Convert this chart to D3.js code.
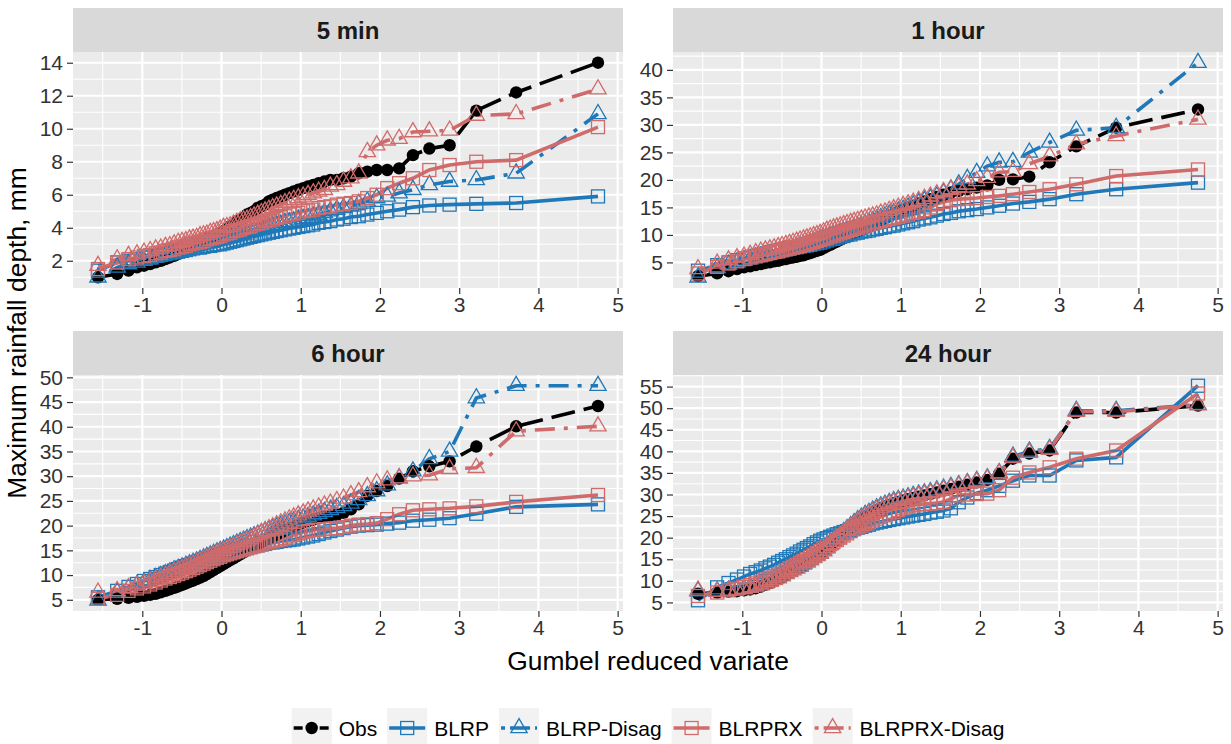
<!DOCTYPE html>
<html lang="en">
<head>
<meta charset="UTF-8">
<title>Gumbel reduced variate vs maximum rainfall depth</title>
<script src="https://d3js.org/d3.v7.min.js"></script>
<style>
  body { margin: 0; background: #fff; }
  svg { display: block; font-family: "Liberation Sans", Arial, sans-serif; }
  .axis text { font-size: 21px; fill: #333; }
  .axis line { stroke: #333; stroke-width: 1.2; }
  .axis .domain { display: none; }
  .strip-text { font-size: 24px; font-weight: bold; fill: #1a1a1a; }
  .axis-title { font-size: 26.4px; fill: #000; }
  .legend-text { font-size: 21px; fill: #000; }
</style>
</head>
<body>
<svg id="chart" width="1231" height="744"></svg>
<script>
// plotting positions (Gumbel reduced variate), shared by every series
const gumbelX = [
  -1.559, -1.317, -1.174, -1.067, -0.978, -0.901, -0.831, -0.767, -0.708, -0.652,
  -0.598, -0.547, -0.498, -0.450, -0.404, -0.359, -0.314, -0.271, -0.227, -0.185,
  -0.142, -0.100, -0.058, -0.017, 0.025, 0.067, 0.109, 0.151, 0.193, 0.236,
  0.279, 0.322, 0.367, 0.411, 0.457, 0.503, 0.550, 0.598, 0.646, 0.696,
  0.748, 0.801, 0.855, 0.911, 0.969, 1.030, 1.092, 1.158, 1.226, 1.298,
  1.374, 1.455, 1.540, 1.633, 1.732, 1.840, 1.959, 2.092, 2.242, 2.416,
  2.623, 2.879, 3.216, 3.719, 4.752
];

const seriesNames = ["Obs", "BLRP", "BLRP-Disag", "BLRPRX", "BLRPRX-Disag"];
const panelTitles = ["5 min", "1 hour", "6 hour", "24 hour"];

const xTicks = [-1, 0, 1, 2, 3, 4, 5];
const yTicks5min = [2, 4, 6, 8, 10, 12, 14];
const yTicks1hour = [5, 10, 15, 20, 25, 30, 35, 40];
const yTicks6hour = [5, 10, 15, 20, 25, 30, 35, 40, 45, 50];
const yTicks24hour = [5, 10, 15, 20, 25, 30, 35, 40, 45, 50, 55];

// ---- 5 min ----
const min5Obs = [
  1.0, 1.2, 1.4, 1.6, 1.7, 1.8, 1.9, 2.0, 2.1, 2.2,
  2.3, 2.4, 2.6, 2.7, 2.8, 2.9, 3.0, 3.1, 3.2, 3.3,
  3.4, 3.5, 3.6, 3.7, 3.8, 3.9, 4.1, 4.2, 4.4, 4.5,
  4.6, 4.8, 4.9, 5.0, 5.2, 5.3, 5.4, 5.6, 5.7, 5.8,
  5.9, 6.0, 6.1, 6.2, 6.3, 6.4, 6.5, 6.6, 6.7, 6.8,
  6.9, 6.9, 7.0, 7.1, 7.3, 7.4, 7.5, 7.5, 7.6, 8.4,
  8.8, 9.0, 11.1, 12.2, 14.0
];
const min5Blrp = [
  1.4, 1.9, 2.0, 2.1, 2.2, 2.2, 2.3, 2.35, 2.4, 2.45,
  2.5, 2.55, 2.6, 2.65, 2.7, 2.75, 2.8, 2.8, 2.85, 2.9,
  2.9, 2.95, 3.0, 3.0, 3.05, 3.1, 3.15, 3.2, 3.25, 3.3,
  3.35, 3.4, 3.45, 3.5, 3.55, 3.6, 3.65, 3.7, 3.75, 3.8,
  3.85, 3.9, 3.95, 4.0, 4.05, 4.1, 4.15, 4.2, 4.3, 4.35,
  4.4, 4.5, 4.55, 4.65, 4.7, 4.8, 4.9, 5.0, 5.1, 5.25,
  5.35, 5.4, 5.45, 5.5, 5.9
];
const min5BlrpDisag = [
  1.0, 1.6, 1.8, 1.9, 2.0, 2.1, 2.2, 2.3, 2.4, 2.45,
  2.5, 2.6, 2.65, 2.7, 2.8, 2.85, 2.9, 2.95, 3.0, 3.05,
  3.1, 3.15, 3.2, 3.25, 3.3, 3.35, 3.4, 3.45, 3.5, 3.55,
  3.6, 3.7, 3.75, 3.8, 3.85, 3.9, 4.0, 4.05, 4.1, 4.15,
  4.2, 4.3, 4.35, 4.4, 4.5, 4.55, 4.6, 4.7, 4.8, 4.9,
  5.0, 5.1, 5.2, 5.3, 5.45, 5.6, 5.8, 5.9, 6.1, 6.3,
  6.6, 6.8, 6.9, 7.3, 10.9
];
const min5Blrprx = [
  1.5, 1.9, 2.1, 2.2, 2.3, 2.35, 2.45, 2.5, 2.6, 2.65,
  2.7, 2.8, 2.85, 2.9, 3.0, 3.05, 3.1, 3.15, 3.2, 3.3,
  3.35, 3.4, 3.45, 3.5, 3.6, 3.65, 3.7, 3.8, 3.85, 3.9,
  4.0, 4.05, 4.1, 4.2, 4.25, 4.3, 4.4, 4.45, 4.5, 4.6,
  4.65, 4.7, 4.8, 4.85, 4.9, 5.0, 5.05, 5.1, 5.2, 5.25,
  5.3, 5.4, 5.45, 5.5, 5.6, 5.8, 6.0, 6.4, 6.7, 7.0,
  7.5, 7.8, 8.0, 8.1, 10.1
];
const min5BlrprxDisag = [
  1.7, 2.1, 2.3, 2.4, 2.5, 2.6, 2.7, 2.75, 2.85, 2.9,
  3.0, 3.1, 3.15, 3.2, 3.3, 3.35, 3.4, 3.5, 3.55, 3.6,
  3.7, 3.75, 3.8, 3.9, 4.0, 4.05, 4.1, 4.2, 4.3, 4.4,
  4.45, 4.5, 4.6, 4.7, 4.8, 4.9, 5.0, 5.1, 5.2, 5.3,
  5.4, 5.5, 5.6, 5.7, 5.8, 5.9, 6.0, 6.1, 6.2, 6.3,
  6.5, 6.6, 6.8, 7.0, 7.3, 8.6, 9.0, 9.3, 9.4, 9.8,
  9.85, 9.9, 10.8, 10.9, 12.4
];

// ---- 1 hour ----
const hr1Obs = [
  2.5, 3.0, 3.4, 3.8, 4.1, 4.3, 4.5, 4.7, 4.9, 5.0,
  5.2, 5.3, 5.5, 5.6, 5.8, 5.9, 6.0, 6.2, 6.3, 6.5,
  6.7, 6.9, 7.1, 7.3, 7.6, 7.9, 8.2, 8.5, 8.8, 9.1,
  9.4, 9.7, 10.0, 10.3, 10.6, 10.9, 11.2, 11.5, 11.8, 12.2,
  12.6, 13.0, 13.4, 13.8, 14.2, 14.6, 15.0, 15.3, 15.7, 16.1,
  16.5, 16.9, 17.3, 17.7, 18.0, 18.3, 18.6, 19.0, 20.0, 20.1,
  20.6, 23.2, 26.1, 29.5, 32.8
];
const hr1Blrp = [
  3.5, 4.5, 5.0, 5.4, 5.7, 6.0, 6.2, 6.4, 6.6, 6.8,
  7.0, 7.1, 7.3, 7.4, 7.6, 7.7, 7.8, 7.9, 8.0, 8.1,
  8.2, 8.4, 8.5, 8.6, 8.8, 9.0, 9.2, 9.3, 9.5, 9.7,
  9.8, 10.0, 10.1, 10.3, 10.4, 10.6, 10.7, 10.8, 11.0, 11.1,
  11.3, 11.4, 11.6, 11.7, 11.9, 12.1, 12.3, 12.5, 12.8, 13.0,
  13.2, 13.5, 13.8, 14.0, 14.3, 14.5, 14.7, 15.0, 15.3, 15.7,
  16.0, 16.5, 17.4, 18.3, 19.5
];
const hr1BlrpDisag = [
  2.3, 4.0, 4.6, 5.0, 5.3, 5.6, 5.9, 6.1, 6.3, 6.5,
  6.7, 6.9, 7.0, 7.2, 7.4, 7.6, 7.8, 8.0, 8.2, 8.4,
  8.6, 8.8, 9.0, 9.2, 9.4, 9.6, 9.8, 10.0, 10.2, 10.4,
  10.6, 10.8, 11.0, 11.2, 11.5, 11.7, 12.0, 12.2, 12.5, 12.8,
  13.1, 13.4, 13.7, 14.0, 14.3, 14.6, 15.0, 15.4, 15.8, 16.2,
  16.6, 17.0, 17.6, 18.3, 19.2, 20.2, 21.3, 22.5, 23.2, 23.3,
  25.0, 26.8, 29.0, 29.5, 41.3
];
const hr1Blrprx = [
  3.0, 4.2, 4.8, 5.2, 5.6, 5.9, 6.1, 6.3, 6.5, 6.7,
  6.9, 7.0, 7.2, 7.4, 7.5, 7.7, 7.8, 8.0, 8.2, 8.3,
  8.5, 8.7, 8.9, 9.1, 9.3, 9.5, 9.7, 9.9, 10.1, 10.3,
  10.5, 10.7, 10.9, 11.1, 11.3, 11.5, 11.7, 11.9, 12.1, 12.3,
  12.5, 12.7, 12.9, 13.1, 13.3, 13.5, 13.7, 14.0, 14.2, 14.5,
  15.0, 15.6, 16.0, 16.3, 16.5, 16.6, 16.7, 16.9, 17.1, 17.4,
  17.8, 18.3, 19.2, 20.7, 21.9
];
const hr1BlrprxDisag = [
  3.8, 4.8, 5.4, 5.8, 6.1, 6.4, 6.7, 7.0, 7.2, 7.4,
  7.6, 7.8, 8.0, 8.2, 8.4, 8.6, 8.8, 9.0, 9.2, 9.4,
  9.6, 9.8, 10.0, 10.2, 10.5, 10.8, 11.0, 11.2, 11.4, 11.6,
  11.8, 12.0, 12.2, 12.4, 12.6, 12.8, 13.0, 13.2, 13.4, 13.6,
  13.9, 14.1, 14.4, 14.7, 15.0, 15.3, 15.6, 15.9, 16.2, 16.6,
  17.0, 17.4, 17.8, 18.2, 18.7, 19.2, 19.8, 20.4, 21.4, 21.5,
  22.9, 24.3, 26.5, 28.0, 31.0
];

// ---- 6 hour ----
const hr6Obs = [
  5.0, 5.2, 5.4, 5.6, 5.8, 6.0, 6.2, 6.5, 6.8, 7.1,
  7.4, 7.7, 8.0, 8.3, 8.6, 8.9, 9.2, 9.5, 9.8, 10.2,
  10.6, 11.0, 11.4, 11.8, 12.2, 12.6, 13.0, 13.4, 13.8, 14.2,
  14.6, 15.0, 15.4, 15.8, 16.2, 16.6, 17.0, 17.4, 17.8, 18.2,
  18.6, 19.0, 19.4, 19.8, 20.2, 20.6, 20.9, 21.2, 21.5, 21.8,
  22.0, 22.2, 22.6, 23.3, 24.3, 26.0, 27.0, 28.0, 29.5, 31.0,
  32.0, 33.0, 36.0, 40.1, 44.2
];
const hr6Blrp = [
  5.5, 6.8, 7.6, 8.2, 8.8, 9.2, 9.6, 10.0, 10.3, 10.6,
  10.9, 11.2, 11.5, 11.8, 12.0, 12.3, 12.5, 12.8, 13.0, 13.2,
  13.4, 13.6, 13.8, 14.0, 14.2, 14.4, 14.6, 14.8, 15.0, 15.2,
  15.4, 15.5, 15.7, 15.9, 16.0, 16.2, 16.3, 16.5, 16.6, 16.7,
  16.9, 17.0, 17.1, 17.2, 17.4, 17.6, 17.8, 18.0, 18.3, 18.6,
  18.9, 19.2, 19.5, 19.8, 20.0, 20.1, 20.2, 20.4, 20.6, 21.0,
  21.2, 21.5, 22.4, 23.8, 24.3
];
const hr6BlrpDisag = [
  4.9, 6.5, 7.3, 8.0, 8.5, 9.0, 9.4, 9.8, 10.2, 10.6,
  11.0, 11.3, 11.6, 11.9, 12.2, 12.5, 12.8, 13.1, 13.4, 13.7,
  14.0, 14.3, 14.6, 14.9, 15.2, 15.5, 15.8, 16.1, 16.4, 16.7,
  17.0, 17.3, 17.6, 17.9, 18.2, 18.5, 18.8, 19.1, 19.4, 19.7,
  20.0, 20.3, 20.6, 20.9, 21.2, 21.5, 21.8, 22.1, 22.4, 22.8,
  23.2, 23.6, 24.0, 24.5, 25.2, 26.0, 27.0, 28.2, 29.6, 31.0,
  33.5, 35.0, 45.8, 48.3, 48.3
];
const hr6Blrprx = [
  5.2, 6.0, 6.8, 7.3, 7.7, 8.1, 8.5, 8.9, 9.3, 9.6,
  9.9, 10.2, 10.5, 10.8, 11.1, 11.4, 11.7, 12.0, 12.3, 12.6,
  12.9, 13.2, 13.5, 13.7, 14.0, 14.2, 14.4, 14.6, 14.8, 15.0,
  15.2, 15.4, 15.6, 15.8, 16.0, 16.2, 16.4, 16.6, 16.8, 17.0,
  17.2, 17.5, 17.8, 18.1, 18.4, 18.7, 18.9, 19.1, 19.2, 19.3,
  19.4, 19.5, 19.7, 20.0, 20.2, 20.3, 20.5, 21.3, 22.3, 23.1,
  23.3, 23.5, 23.9, 24.8, 26.2
];
const hr6BlrprxDisag = [
  6.5, 6.8, 7.4, 7.9, 8.3, 8.7, 9.1, 9.5, 9.9, 10.3,
  10.7, 11.0, 11.3, 11.6, 11.9, 12.2, 12.5, 12.8, 13.1, 13.4,
  13.7, 14.0, 14.3, 14.6, 14.9, 15.2, 15.5, 15.8, 16.1, 16.4,
  16.7, 17.0, 17.3, 17.7, 18.1, 18.5, 18.9, 19.3, 19.7, 20.1,
  20.5, 20.9, 21.3, 21.7, 22.1, 22.5, 22.9, 23.3, 23.7, 24.1,
  24.5, 25.0, 25.5, 26.2, 26.8, 27.8, 28.6, 29.2, 29.6, 30.0,
  30.2, 31.5, 31.7, 39.1, 40.1
];

// ---- 24 hour ----
const hr24Obs = [
  7.0, 7.3, 7.5, 7.6, 7.8, 8.0, 8.3, 8.7, 9.1, 9.5,
  9.9, 10.4, 10.8, 11.3, 11.8, 12.3, 12.7, 13.1, 13.5, 14.0,
  14.5, 15.0, 15.5, 16.0, 16.7, 17.4, 18.1, 18.8, 19.5, 20.2,
  20.9, 21.5, 22.2, 22.9, 23.6, 24.2, 24.8, 25.3, 25.8, 26.3,
  26.8, 27.2, 27.6, 28.0, 28.3, 28.6, 28.9, 29.2, 29.5, 29.8,
  30.1, 30.5, 30.9, 31.3, 31.8, 32.3, 32.8, 33.4, 34.8, 38.3,
  39.5, 40.2, 49.0, 49.0, 50.6
];
const hr24Blrp = [
  5.5, 8.5, 9.5, 10.3, 11.0, 11.6, 12.0, 12.4, 12.9, 13.3,
  13.7, 14.2, 14.6, 15.0, 15.5, 15.9, 16.3, 16.8, 17.2, 17.6,
  18.0, 18.5, 18.9, 19.3, 19.6, 19.9, 20.2, 20.5, 20.8, 21.0,
  21.3, 21.5, 21.8, 22.0, 22.3, 22.5, 22.8, 23.0, 23.3, 23.5,
  23.7, 23.9, 24.1, 24.3, 24.5, 24.7, 24.9, 25.1, 25.3, 25.5,
  25.8, 26.0, 26.3, 26.8, 28.2, 29.3, 30.3, 31.0, 32.0, 33.2,
  34.4, 34.4, 37.9, 38.6, 55.2
];
const hr24BlrpDisag = [
  7.6, 7.6, 7.8, 8.0, 8.2, 8.5, 8.8, 9.2, 9.6, 10.0,
  10.4, 10.9, 11.3, 11.8, 12.3, 12.8, 13.2, 13.6, 14.0, 14.5,
  15.0, 15.5, 16.0, 16.5, 17.1, 17.8, 18.5, 19.2, 19.9, 20.6,
  21.3, 22.0, 22.7, 23.4, 24.1, 24.7, 25.3, 25.8, 26.3, 26.8,
  27.3, 27.7, 28.1, 28.5, 28.8, 29.1, 29.4, 29.7, 30.0, 30.3,
  30.6, 31.0, 31.4, 31.8, 32.2, 32.7, 33.2, 33.8, 35.0, 38.8,
  40.0, 40.6, 49.4, 49.4, 50.8
];
const hr24Blrprx = [
  6.5, 7.3, 7.8, 8.2, 8.6, 9.0, 9.4, 9.8, 10.3, 10.7,
  11.1, 11.5, 12.0, 12.4, 12.9, 13.3, 13.7, 14.2, 14.6, 15.0,
  15.5, 15.9, 16.4, 16.9, 17.5, 18.0, 18.5, 19.0, 19.5, 20.0,
  20.5, 21.0, 21.5, 22.0, 22.4, 22.8, 23.2, 23.6, 24.0, 24.4,
  24.8, 25.2, 25.6, 26.0, 26.4, 26.8, 27.2, 27.5, 27.7, 27.8,
  27.9, 28.0, 28.3, 29.0, 29.8, 30.0, 30.1, 30.2, 31.0, 33.9,
  35.1, 36.3, 38.3, 40.2, 53.4
];
const hr24BlrprxDisag = [
  7.8, 7.5, 7.7, 7.9, 8.1, 8.4, 8.7, 9.0, 9.4, 9.8,
  10.2, 10.6, 11.1, 11.6, 12.1, 12.5, 12.9, 13.3, 13.8, 14.3,
  14.8, 15.3, 15.8, 16.3, 16.9, 17.6, 18.3, 19.0, 19.7, 20.4,
  21.1, 21.8, 22.5, 23.1, 23.8, 24.4, 25.0, 25.5, 26.0, 26.5,
  27.0, 27.4, 27.8, 28.2, 28.5, 28.8, 29.1, 29.4, 29.7, 30.0,
  30.3, 30.7, 31.1, 31.5, 32.0, 32.5, 33.0, 33.6, 34.9, 38.5,
  39.7, 40.4, 49.2, 49.2, 50.7
];

// ---------- assemble ----------
const panels = [
  { title: panelTitles[0], yTicks: yTicks5min,
    values: [min5Obs, min5Blrp, min5BlrpDisag, min5Blrprx, min5BlrprxDisag] },
  { title: panelTitles[1], yTicks: yTicks1hour,
    values: [hr1Obs, hr1Blrp, hr1BlrpDisag, hr1Blrprx, hr1BlrprxDisag] },
  { title: panelTitles[2], yTicks: yTicks6hour,
    values: [hr6Obs, hr6Blrp, hr6BlrpDisag, hr6Blrprx, hr6BlrprxDisag] },
  { title: panelTitles[3], yTicks: yTicks24hour,
    values: [hr24Obs, hr24Blrp, hr24BlrpDisag, hr24Blrprx, hr24BlrprxDisag] }
];

const blue = "#1f78b8", red = "#d06b6b";
const styles = {
  "Obs":          { color: "#000", dash: "24,9",      shape: "circle" },
  "BLRP":         { color: blue,   dash: null,        shape: "square" },
  "BLRP-Disag":   { color: blue,   dash: "4,9,20,9",  shape: "triangle" },
  "BLRPRX":       { color: red,    dash: null,        shape: "square" },
  "BLRPRX-Disag": { color: red,    dash: "4,9,20,9",  shape: "triangle" }
};

const svg = d3.select("#chart");
const cols = [73, 673], rows = [52, 375];
const panelW = 550, panelH = 236, stripH = 44;

function drawMarker(g, shape, color, cx, cy) {
  if (shape === "circle") {
    g.append("circle").attr("cx", cx).attr("cy", cy).attr("r", 6.2).attr("fill", color);
  } else if (shape === "square") {
    g.append("rect").attr("x", cx - 6.5).attr("y", cy - 6.5)
      .attr("width", 13).attr("height", 13)
      .attr("fill", "none").attr("stroke", color).attr("stroke-width", 1.3);
  } else {
    g.append("path").attr("transform", `translate(${cx},${cy})`)
      .attr("d", d3.symbol(d3.symbolTriangle, 115)())
      .attr("fill", "none").attr("stroke", color).attr("stroke-width", 1.3);
  }
}

panels.forEach((p, k) => {
  const left = cols[k % 2], top = rows[Math.floor(k / 2)];

  const xExt = d3.extent(gumbelX);
  const yExt = d3.extent(p.values.flat());
  const xPad = (xExt[1] - xExt[0]) * 0.05, yPad = (yExt[1] - yExt[0]) * 0.05;
  const x = d3.scaleLinear().domain([xExt[0] - xPad, xExt[1] + xPad]).range([left, left + panelW]);
  const y = d3.scaleLinear().domain([yExt[0] - yPad, yExt[1] + yPad]).range([top + panelH, top]);

  // strip
  svg.append("rect").attr("x", left).attr("y", top - stripH)
    .attr("width", panelW).attr("height", stripH).attr("fill", "#d9d9d9");
  svg.append("text").attr("class", "strip-text")
    .attr("x", left + panelW / 2).attr("y", top - stripH / 2)
    .attr("text-anchor", "middle").attr("dominant-baseline", "central")
    .text(p.title);

  // panel background + grid
  svg.append("rect").attr("x", left).attr("y", top)
    .attr("width", panelW).attr("height", panelH).attr("fill", "#ebebeb");

  const grid = svg.append("g");
  const xStep = xTicks[1] - xTicks[0], yStep = p.yTicks[1] - p.yTicks[0];
  const xMinor = [xTicks[0] - xStep, ...xTicks].map(v => v + xStep / 2)
    .filter(v => v > x.domain()[0] && v < x.domain()[1]);
  const yMinor = [p.yTicks[0] - yStep, ...p.yTicks].map(v => v + yStep / 2)
    .filter(v => v > y.domain()[0] && v < y.domain()[1]);

  grid.selectAll(".xminor").data(xMinor).enter().append("line")
    .attr("x1", d => x(d)).attr("x2", d => x(d)).attr("y1", top).attr("y2", top + panelH)
    .attr("stroke", "#fff").attr("stroke-width", 1.1);
  grid.selectAll(".yminor").data(yMinor).enter().append("line")
    .attr("x1", left).attr("x2", left + panelW).attr("y1", d => y(d)).attr("y2", d => y(d))
    .attr("stroke", "#fff").attr("stroke-width", 1.1);
  grid.selectAll(".xmajor").data(xTicks.filter(v => v > x.domain()[0] && v < x.domain()[1]))
    .enter().append("line")
    .attr("x1", d => x(d)).attr("x2", d => x(d)).attr("y1", top).attr("y2", top + panelH)
    .attr("stroke", "#fff").attr("stroke-width", 2.2);
  grid.selectAll(".ymajor").data(p.yTicks).enter().append("line")
    .attr("x1", left).attr("x2", left + panelW).attr("y1", d => y(d)).attr("y2", d => y(d))
    .attr("stroke", "#fff").attr("stroke-width", 2.2);

  // axes
  svg.append("g").attr("class", "axis")
    .attr("transform", `translate(${left},0)`)
    .call(d3.axisLeft(y).tickValues(p.yTicks).tickSize(6).tickPadding(4));
  svg.append("g").attr("class", "axis")
    .attr("transform", `translate(0,${top + panelH})`)
    .call(d3.axisBottom(x).tickValues(xTicks).tickSize(6).tickPadding(3)
      .tickFormat(d => d < 0 ? "-" + Math.abs(d) : d));

  // series: lines first, then points in series order
  const line = d3.line().x(d => x(d[0])).y(d => y(d[1]));
  const lines = svg.append("g"), pts = svg.append("g");
  seriesNames.forEach((name, s) => {
    const st = styles[name];
    const pts2 = gumbelX.map((gx, i) => [gx, p.values[s][i]]);
    lines.append("path").datum(pts2)
      .attr("d", line).attr("fill", "none")
      .attr("stroke", st.color).attr("stroke-width", 3.6)
      .attr("stroke-dasharray", st.dash);
  });
  seriesNames.forEach((name, s) => {
    const st = styles[name];
    const g = pts.append("g");
    gumbelX.forEach((gx, i) => drawMarker(g, st.shape, st.color, x(gx), y(p.values[s][i])));
  });
});

// axis titles
svg.append("text").attr("class", "axis-title")
  .attr("x", (cols[0] + cols[1] + panelW) / 2).attr("y", 670)
  .attr("text-anchor", "middle").text("Gumbel reduced variate");
svg.append("text").attr("class", "axis-title")
  .attr("transform", "translate(26,333) rotate(-90)")
  .attr("text-anchor", "middle").text("Maximum rainfall depth, mm");

// legend
const legend = svg.append("g");
const keyW = 40, keyH = 40, keyGap = 7, itemGap = 10, legendCy = 728;
const items = seriesNames.map(name => {
  const t = legend.append("text").attr("class", "legend-text")
    .attr("dominant-baseline", "central").attr("y", legendCy).text(name);
  return { name, t, w: t.node().getComputedTextLength() };
});
const totalW = d3.sum(items, d => d.w) + items.length * (keyW + keyGap) + (items.length - 1) * itemGap;
let lx = (cols[0] + cols[1] + panelW) / 2 - totalW / 2;
items.forEach(it => {
  const st = styles[it.name];
  legend.append("rect").attr("x", lx).attr("y", legendCy - keyH / 2)
    .attr("width", keyW).attr("height", keyH).attr("fill", "#f2f2f2");
  legend.append("line").attr("x1", lx + 2).attr("x2", lx + keyW - 2)
    .attr("y1", legendCy).attr("y2", legendCy)
    .attr("stroke", st.color).attr("stroke-width", 3.6)
    .attr("stroke-dasharray", st.dash ? (it.name === "Obs" ? "9,4" : "4,5,20,5") : null);
  drawMarker(legend.append("g"), st.shape, st.color, lx + keyW / 2, legendCy);
  it.t.attr("x", lx + keyW + keyGap);
  lx += keyW + keyGap + it.w + itemGap;
});
</script>
</body>
</html>
